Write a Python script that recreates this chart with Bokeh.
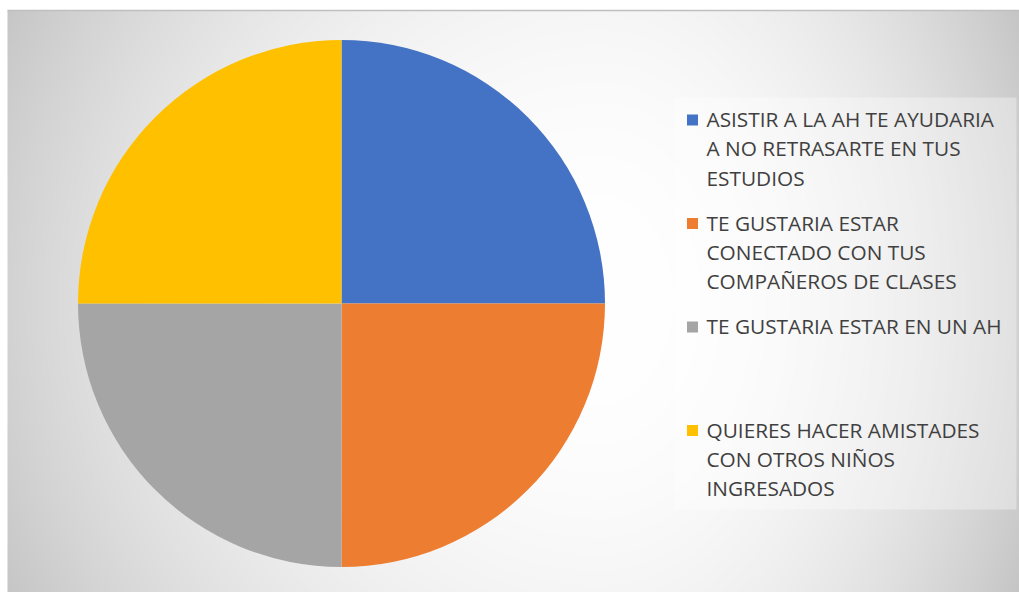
import numpy as np
from bokeh.plotting import figure
from bokeh.models import Range1d, ColumnDataSource
from bokeh.core.properties import value
from bokeh.embed import file_html
from bokeh.resources import INLINE

# ---- data ----
categories = [
    "ASISTIR A LA AH TE AYUDARIA\nA NO RETRASARTE EN TUS\nESTUDIOS",
    "TE GUSTARIA ESTAR\nCONECTADO CON TUS\nCOMPAÑEROS DE CLASES",
    "TE GUSTARIA ESTAR EN UN AH",
    "QUIERES HACER AMISTADES\nCON OTROS NIÑOS\nINGRESADOS",
]
values = [1, 1, 1, 1]
colors = ["#4472C4", "#ED7D31", "#A5A5A5", "#FFC000"]

W, H = 1019, 592
def Y(py):
    return H - py

p = figure(width=W, height=H, output_backend="svg", toolbar_location=None,
           x_range=Range1d(0, W), y_range=Range1d(0, H), min_border=0)
p.axis.visible = False
p.grid.visible = False
p.outline_line_color = None
p.background_fill_color = "white"
p.border_fill_color = "white"

# ---- background radial gradient (chart area) ----
x0, y0t = 7, 10
bw, bh = W - x0, H - y0t
xs = np.arange(bw) + x0 + 0.5
ys = H - (np.arange(bh) + 0.5)  # row 0 -> bottom pixel
XX, YY = np.meshgrid(xs, ys)
cx, cy = 600.0, 300.0
rx = np.where(XX < cx, 600.0, 420.0)
d = np.sqrt(((XX - cx) / rx) ** 2 + ((YY - cy) / 600.0) ** 2)
drop = np.clip(46.0 * d ** 2.2, 0, 66)
g = np.clip(255 - drop, 0, 255).astype(np.uint32)
img = (255 << 24) | (g << 16) | (g << 8) | g
p.image_rgba(image=[img.astype(np.uint32)], x=x0, y=0, dw=bw, dh=bh)

# top border of chart area
p.segment(x0=[x0], y0=[Y(y0t)], x1=[W], y1=[Y(y0t)], line_color="#bfbfbf", line_width=1.5)

# ---- pie ----
pcx, pcy, pr = 341, Y(303), 263.5
vals = np.array(values, dtype=float)
frac = vals / vals.sum()
cum = np.concatenate([[0], np.cumsum(frac)])
starts = np.pi / 2 - cum[:-1] * 2 * np.pi
ends = np.pi / 2 - cum[1:] * 2 * np.pi
src = ColumnDataSource(dict(start=starts, end=ends, color=colors))
p.wedge(x=pcx, y=pcy, radius=pr, start_angle="start", end_angle="end",
        direction="clock", fill_color="color", line_color=None, source=src)

# ---- legend ----
p.quad(left=[674], right=[1016], top=[Y(97)], bottom=[Y(509)],
       fill_color="white", fill_alpha=0.35, line_color=None)

slot_top, slot_h, line_h = 119.5, 103.5, 29.3
for i, (lab, col) in enumerate(zip(categories, colors)):
    ty = slot_top + i * slot_h
    p.rect(x=[692], y=[Y(ty)], width=11, height=11, fill_color=col, line_color=None)
    lines = lab.split("\n")
    p.text(x=[706] * len(lines), y=[Y(ty - 1 + k * line_h) for k in range(len(lines))],
           text=lines, text_font=value("Open Sans"), text_font_size="20.8px",
           text_color="#404040", text_baseline="middle", text_align="left")

open("out.html", "w").write(file_html(p, INLINE))
